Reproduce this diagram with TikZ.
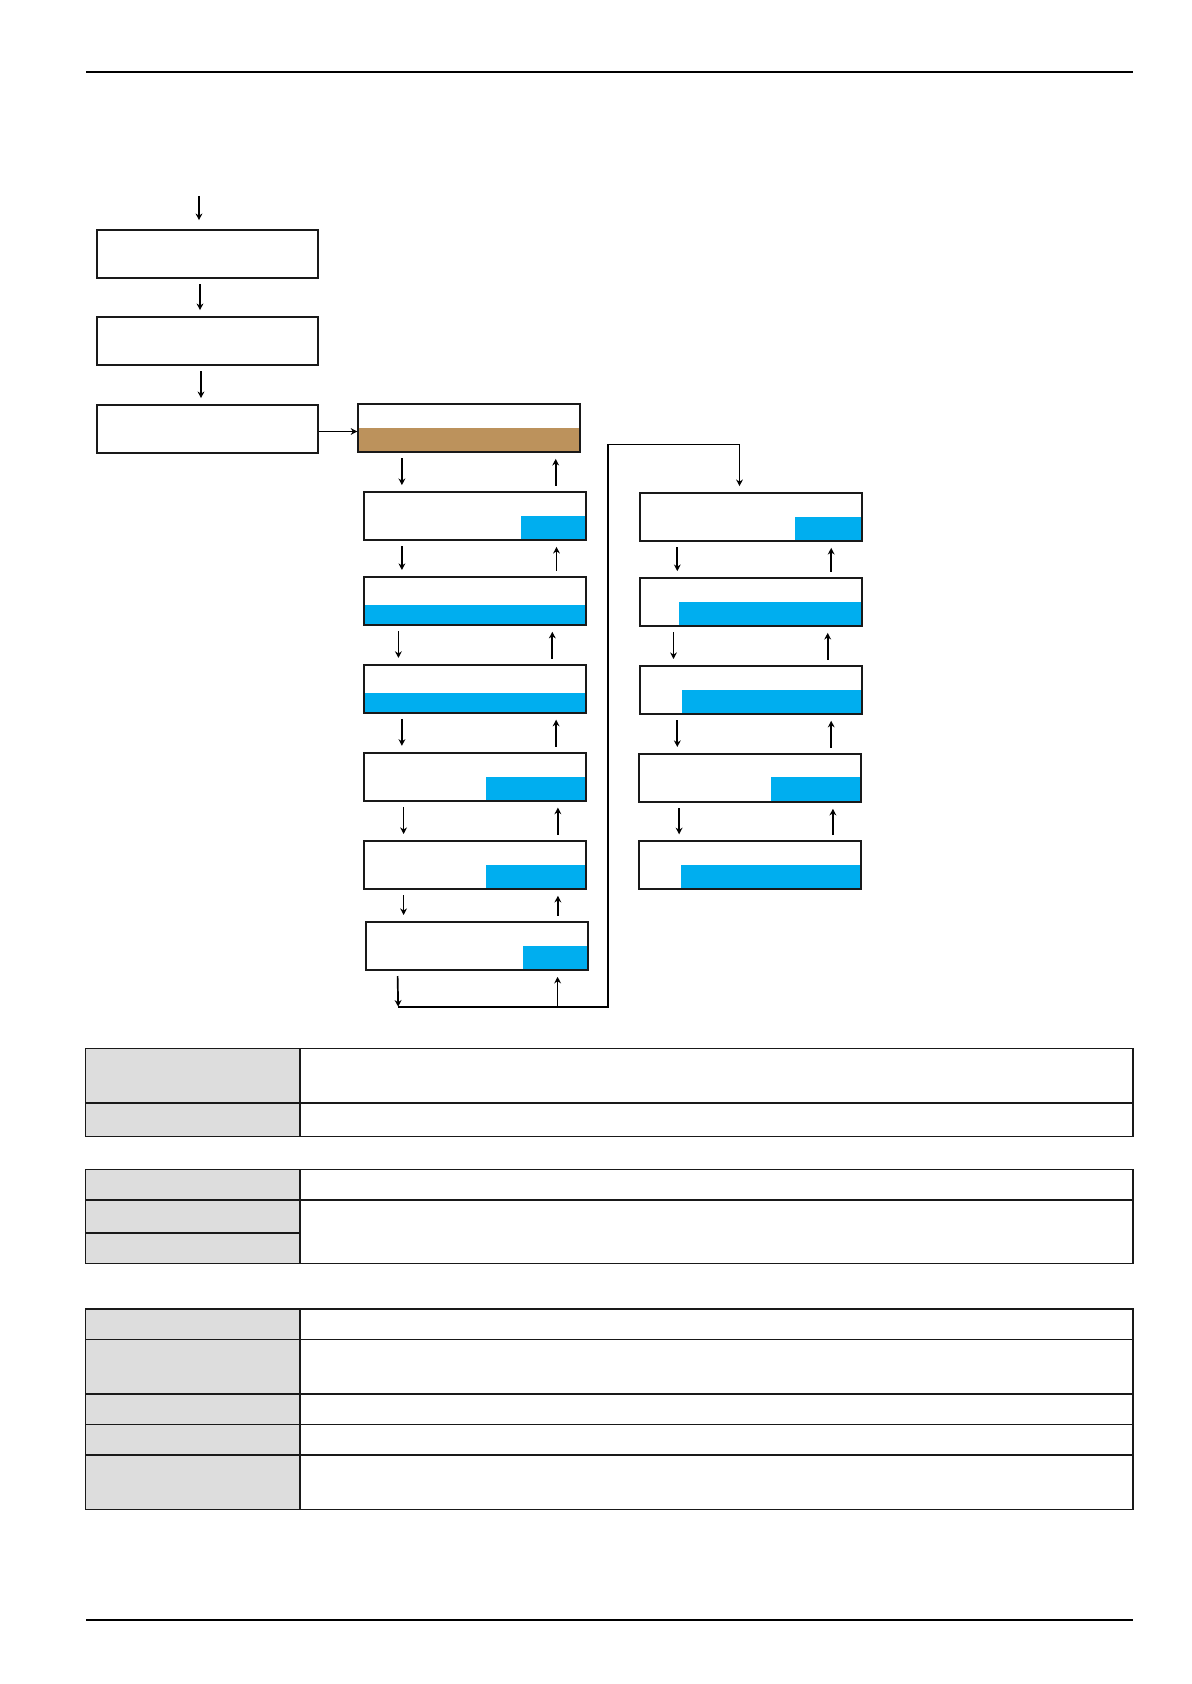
\documentclass[tikz,border=0pt]{standalone}
\usepackage{xcolor}
\usepackage{tikz}
\usetikzlibrary{arrows.meta,calc}
\definecolor{waterblue}{RGB}{0,174,239}
\definecolor{sludge}{RGB}{188,146,92}
\definecolor{cellgray}{RGB}{221,221,221}
\tikzset{
  pl step/.style={
    rectangle,
    minimum width=110.8pt,
    minimum height=24pt,
    line width=0.9pt,
    draw=black!90,
    inner sep=0pt,
  },
  pl basin/.style={
    pl step,
    minimum width=111pt,
  },
  pl fill/.style n args={3}{
    path picture={
      \fill[#1] ($(path picture bounding box.south west)!#2!(path picture bounding box.south east)$)
        rectangle ([yshift=#3]path picture bounding box.south east);
    },
  },
  pl arrow/.style={-{Stealth[length=3.3pt,width=3.4pt]}, line width=0.85pt, shorten <=2.6pt, shorten >=3pt},
  pl line/.style={line width=0.85pt},
  pl rule/.style={line width=1pt},
  pl thin/.style={line width=0.55pt, draw=black!90},
  pl thick/.style={line width=0.95pt, draw=black!90},
}

\begin{document}
\begin{tikzpicture}[x=0.5pt, y=-0.5pt]
  \useasboundingbox (0,0) rectangle (1191,1684);
  % page rules
  \draw[pl rule] (86,72) -- (1133,72);
  \draw[pl rule] (86,1620) -- (1133,1620);

  % pretreatment
  \coordinate (inlet) at (199,196);
  \node[pl step] (screen) at (207.5,254) {};
  \node[pl step] (grit) at (207.5,341) {};
  \node[pl step] (equal) at (207.5,429) {};
  \node[pl step, pl fill={sludge}{0}{12pt}] (tank) at (469,428) {};

  \draw[pl arrow, shorten <=0pt, shorten >=4.5pt] (inlet) -- (inlet |- screen.north);
  \draw[pl arrow] ($(screen.south)+(-7.5,0)$) -- ($(grit.north)+(-7.5,0)$);
  \draw[pl arrow] ($(grit.south)+(-6.5,0)$) -- ($(equal.north)+(-6.5,0)$);
  \draw[pl arrow, shorten <=0pt, shorten >=0pt] ($(equal.east)+(0,2.5)$) -- ($(equal.east -| tank.west)+(0,2.5)$);

  % left basins
  \node[pl basin, pl fill={waterblue}{0.707}{12pt}] (left1) at (475,516) {};
  \node[pl basin, pl fill={waterblue}{0}{10pt}] (left2) at (475,600.9) {};
  \node[pl basin, pl fill={waterblue}{0}{10pt}] (left3) at (475,688.8) {};
  \node[pl basin, pl fill={waterblue}{0.548}{11.7pt}] (left4) at (475,776.7) {};
  \node[pl basin, pl fill={waterblue}{0.548}{12pt}] (left5) at (475,864.9) {};
  \node[pl basin, pl fill={waterblue}{0.705}{12pt}] (left6) at (477.2,945.9) {};

  % right basins
  \node[pl basin, pl fill={waterblue}{0.70}{12.2pt}] (right1) at (750.8,517) {};
  \node[pl basin, pl fill={waterblue}{0.177}{12pt}] (right2) at (750.8,602) {};
  \node[pl basin, pl fill={waterblue}{0.191}{12pt}] (right3) at (750.8,689.9) {};
  \node[pl basin, pl fill={waterblue}{0.594}{12.3pt}] (right4) at (749.8,777.9) {};
  \node[pl basin, pl fill={waterblue}{0.188}{12pt}] (right5) at (749.8,865.2) {};

  % down and up arrows between basins
  \foreach \a/\b/\dn/\up in {tank/left1/44.6/-25, left1/left2/38.8/-30.4,
      left2/left3/35.3/-34.6, left3/left4/38.8/-30.8, left4/left5/40.5/-29,
      left5/left6/40.5/-29, right1/right2/38.4/-31.5, right2/right3/34.6/-35,
      right3/right4/38.4/-31.5, right4/right5/41.2/-28.8} {
    \draw let \p1=($(\a.south west)+(\dn,0)$), \p2=(\b.north) in
      [pl arrow] (\p1) -- (\x1,\y2);
    \draw let \p1=($(\a.south east)+(\up,0)$), \p2=(\b.north) in
      [pl arrow] (\x1,\y2) -- (\p1);
  }

  % return line
  \coordinate (retSW) at (398.2,1007.3);
  \coordinate (retSE) at (608,1007.3);
  \coordinate (retNE) at (608,444.6);
  \coordinate (retTop) at (739.5,444.6);
  \draw[pl line] (retSW) -- (retSE) -- (retNE) -- (retTop);
  \draw[pl arrow, shorten <=0pt] (retTop) -- (retTop |- right1.north);
  \draw[pl arrow, shorten >=0.3pt] ($(left6.south west)+(32.2,0)$) -- (retSW);
  \draw let \p1=($(left6.south east)+(-31.5,0)$), \p2=(retSW) in
    [pl arrow, shorten <=0pt] (\x1,\y2) -- (\p1);

  % table 1
  \fill[cellgray] (85.7,1048.3) rectangle (300,1136.7);
  \draw[pl thin] (85.7,1048.3) rectangle (1133,1136.7);
  \draw[pl thick] (300,1048.3) -- (300,1136.7);
  \draw[pl thick] (85.7,1102.7) -- (1133,1102.7);

  % table 2
  \fill[cellgray] (85.7,1169.3) rectangle (300,1263.3);
  \draw[pl thin] (85.7,1169.3) rectangle (1133,1263.3);
  \draw[pl thick] (300,1169.3) -- (300,1263.3);
  \draw[pl thick] (85.7,1200) -- (1133,1200);
  \draw[pl thick] (85.7,1232.7) -- (300,1232.7);

  % table 3
  \fill[cellgray] (85.7,1309) rectangle (300,1509.3);
  \draw[pl thin] (85.7,1309) rectangle (1133,1509.3);
  \draw[pl thick] (85.7,1309) -- (1133,1309);
  \draw[pl thick] (300,1309) -- (300,1509.3);
  \draw[pl thin] (85.7,1339.3) -- (1133,1339.3);
  \draw[pl thick] (85.7,1394) -- (1133,1394);
  \draw[pl thin] (85.7,1424.3) -- (1133,1424.3);
  \draw[pl thick] (85.7,1454.7) -- (1133,1454.7);
\end{tikzpicture}
\end{document}
